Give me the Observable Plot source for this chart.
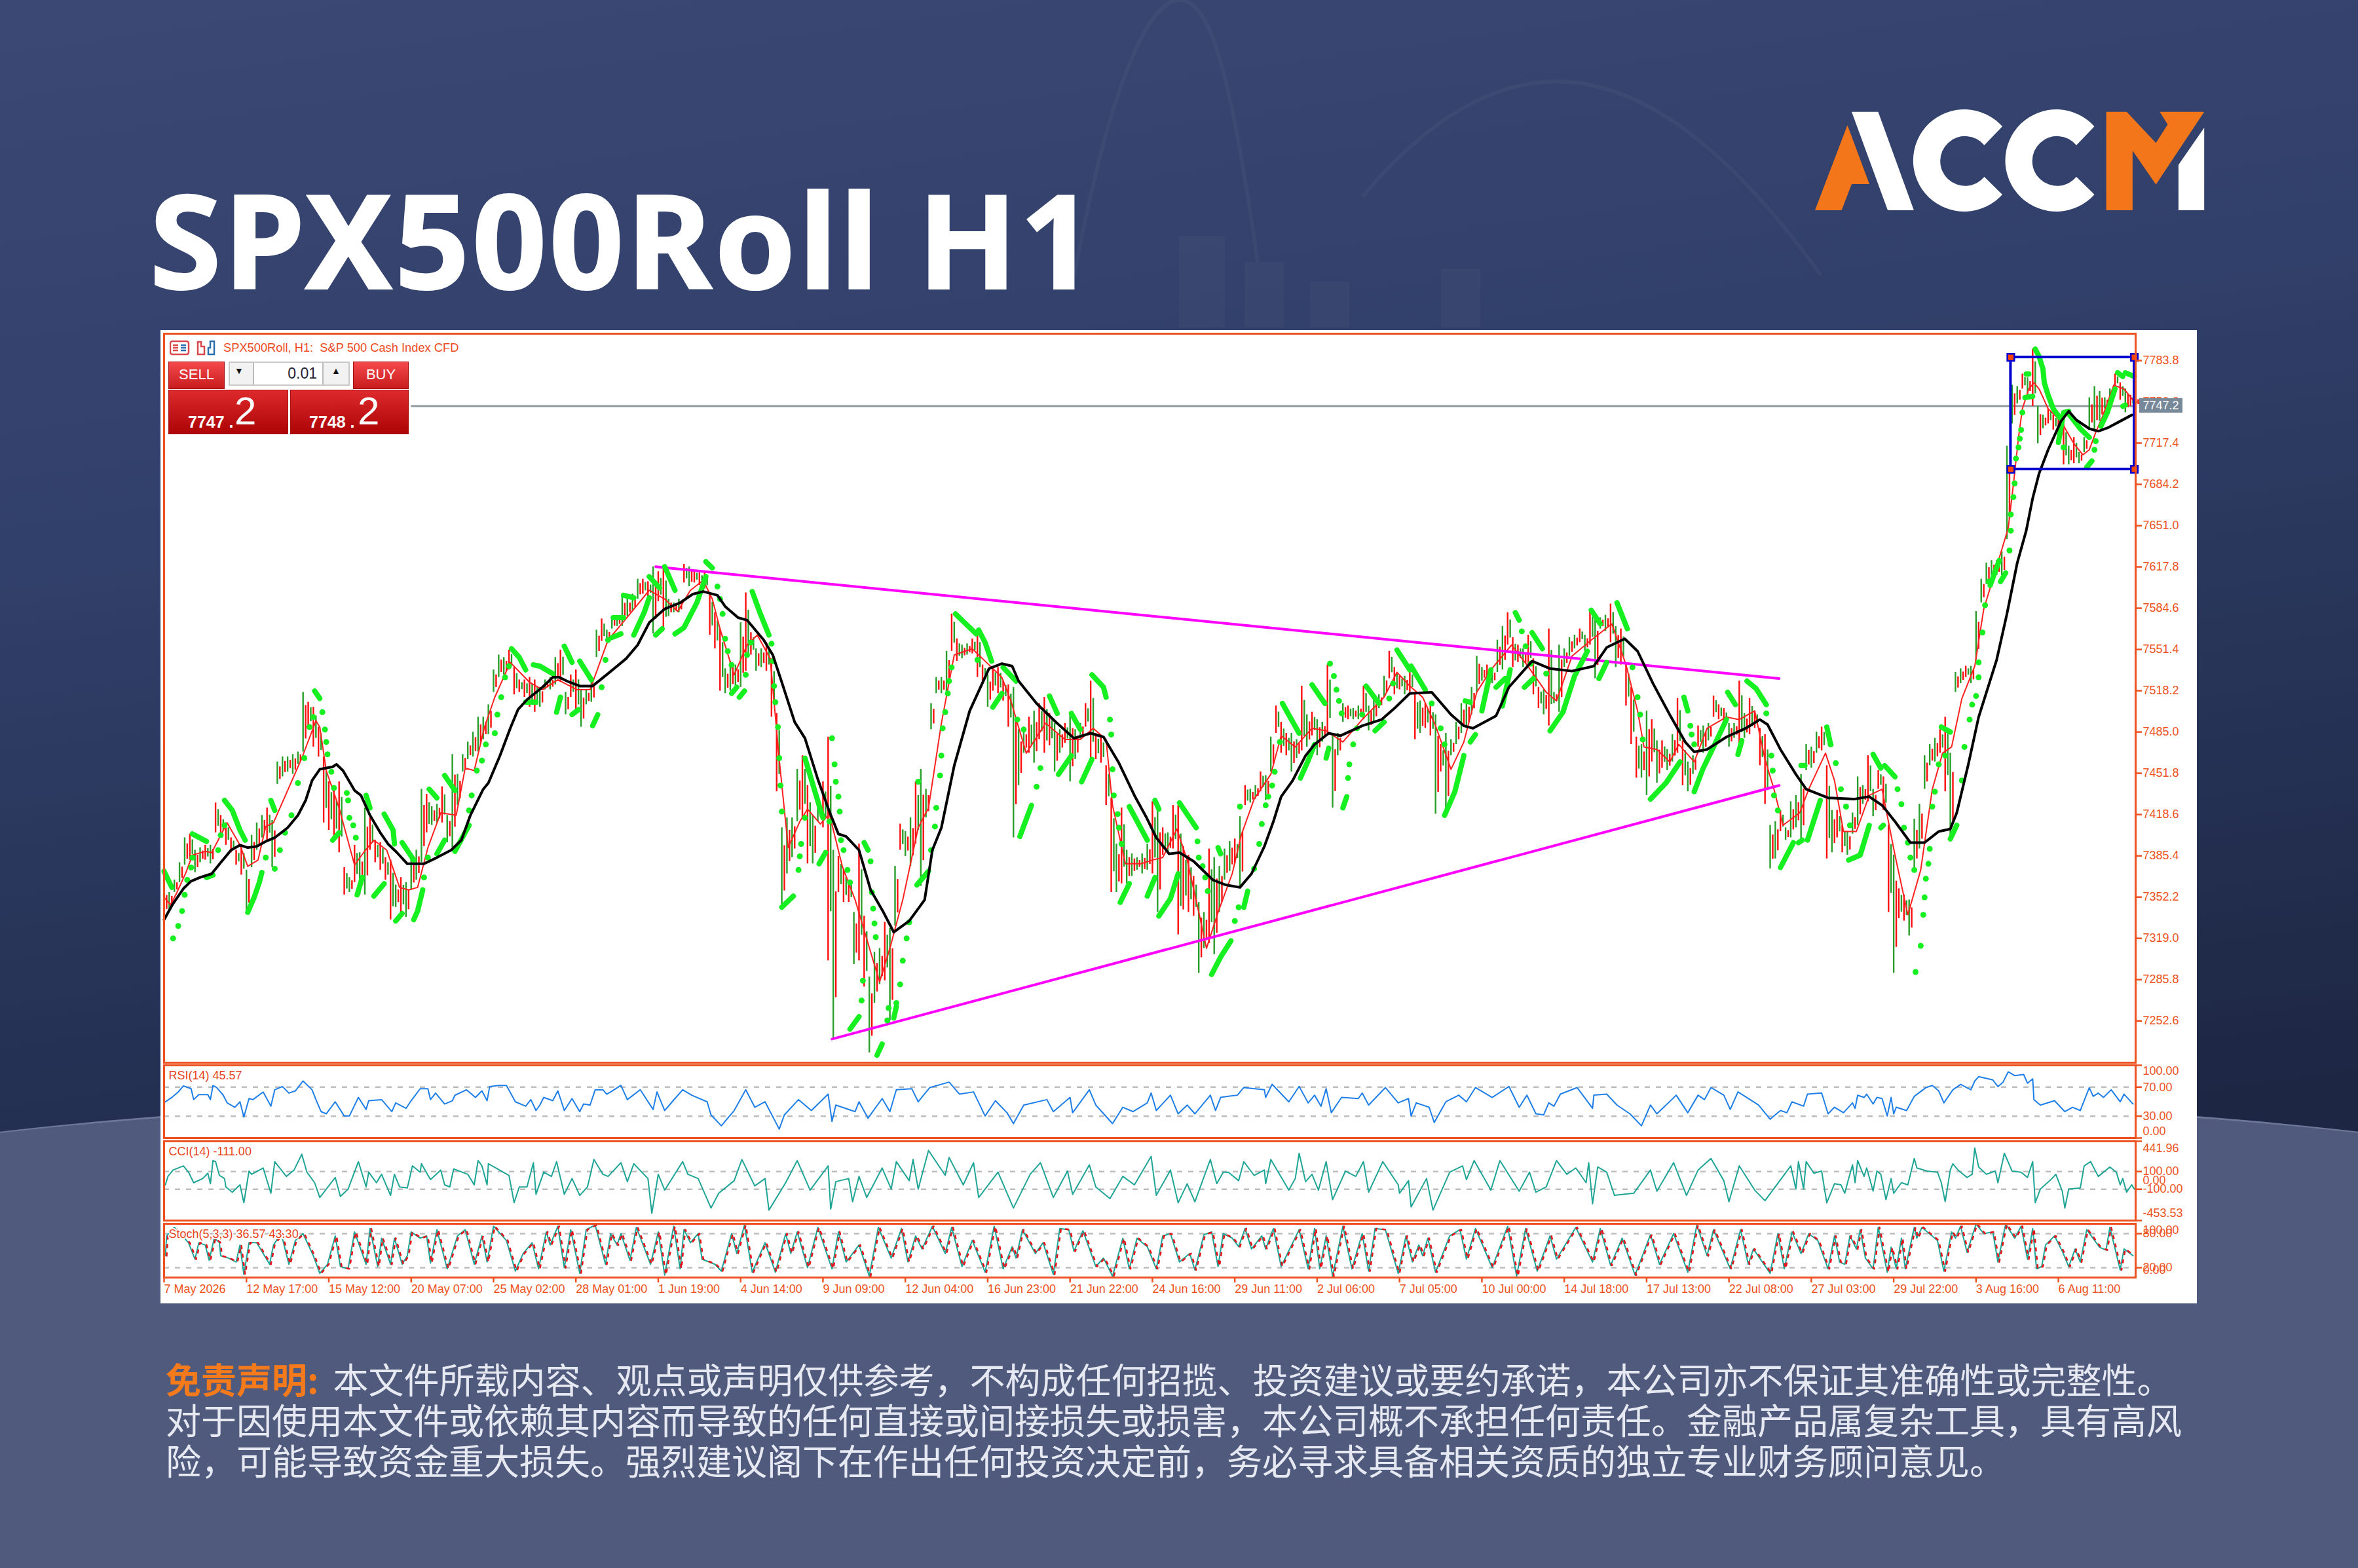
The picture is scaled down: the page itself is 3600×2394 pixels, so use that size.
<!DOCTYPE html>
<html><head><meta charset="utf-8">
<script src="https://cdn.jsdelivr.net/npm/d3@7"></script>
<script src="https://cdn.jsdelivr.net/npm/@observablehq/plot@0.6"></script>
<style>
html,body{margin:0;padding:0}
body{width:3600px;height:2394px;position:relative;overflow:hidden;background:linear-gradient(172deg,#3a4873 0%,#31406a 30%,#1d2744 74%);font-family:"Liberation Sans",sans-serif}
.abs{position:absolute}
#band{left:-300px;top:1655px;bottom:0;background:#4f5a7d;border-radius:50% 50% 0 0/150px 150px 0 0;border-top:4px solid #6d7898;width:4200px}
#title{left:228px;top:228px;font:700 200px/1.36 "Noto Sans",sans-serif;color:#fff;white-space:nowrap;letter-spacing:3.4px;-webkit-text-stroke:2px #fff}
#panel{left:245px;top:504px;width:3109px;height:1486px;background:#fff}
.plot{position:absolute;left:245px}
.sym{left:341px;top:520px;font-size:18.3px;color:#ee4b1e;white-space:nowrap}
.btn{background:linear-gradient(#f4484a,#c81d1f);color:#fff;text-align:center;font-size:22px;line-height:38px;box-sizing:border-box;border:1px solid #a80f10}
.px{background:linear-gradient(#dd2a2c,#ad0406);border:1px solid #a80f10;box-sizing:border-box}
.t{position:absolute;color:#fff;white-space:nowrap}
#disc{left:253px;top:2074px;font:400 54px/62px "Noto Sans CJK SC",sans-serif;color:#e6e9f1;white-space:nowrap}
#disc b{color:#f47a1c;font-weight:700;margin-right:22px}
</style></head><body>
<svg class="abs" style="left:0;top:0" width="3600" height="520"><g fill="none" stroke="#fff" stroke-opacity=".035" stroke-width="6"><path d="M1640 420C1700 100 1760 0 1800 0C1850 0 1880 120 1920 400"/><path d="M2080 300C2300 40 2520 60 2780 420"/></g><g fill="#fff" fill-opacity=".03"><rect x="1800" y="360" width="70" height="140"/><rect x="1900" y="400" width="60" height="100"/><rect x="2000" y="430" width="60" height="70"/><rect x="2200" y="410" width="60" height="90"/></g></svg>
<div class="abs" id="band"></div>
<svg class="abs" style="left:0;top:0" width="3600" height="400" role="img" aria-label="ACCM">
<g fill="#f4761a"><path d="M2771 321L2820.5 191L2854 281H2827L2811.6 321Z"/><path d="M3215.6 170.7H3246.9L3291.5 218.3L3309.4 190L3297.3 170.7H3365.2L3291.5 281.7L3255.8 230V321H3215.6Z"/></g>
<g fill="#fff"><path d="M2827 170.7H2867.4L2921.9 321H2882Z"/><path d="M3057 193A78 78 0 1 0 3057 297L3029.5 270A38 38 0 1 1 3029.5 221.7Z"/><path d="M3197.6 193A78 78 0 1 0 3197.6 297L3170 270A38 38 0 1 1 3170 221.7Z"/><path d="M3365.2 195V321H3325.9V251.7Z"/></g>
</svg>
<div class="abs" id="title">SPX500Roll H1</div>
<div class="abs" id="panel"></div>
<div class="plot" id="pMain" style="top:504px"></div>
<div class="plot" id="pRsi" style="top:1624px"></div>
<div class="plot" id="pCci" style="top:1740px"></div>
<div class="plot" id="pSto" style="top:1866px"></div>
<svg class="abs" style="left:259px;top:519px" width="72" height="24"><g fill="none" stroke-width="2.5"><rect x="1" y="2" width="28" height="20" rx="3" stroke="#d9484c"/><path d="M5 8h8M5 12h8M5 16h8" stroke="#d9484c"/><path d="M17 8h8M17 12h8M17 16h8" stroke="#2a6fb0"/><path d="M43 6v16h10V10h-5V3h-5z" stroke="#d9484c"/><path d="M59 22h9V2h-6v10h-3z" stroke="#2a6fb0"/></g></svg>
<div class="abs sym">SPX500Roll, H1:&nbsp; S&amp;P 500 Cash Index CFD</div>
<div class="abs btn" style="left:257px;top:552px;width:86px;height:42px">SELL</div>
<div class="abs btn" style="left:539px;top:552px;width:85px;height:42px">BUY</div>
<div class="abs" style="left:349px;top:552px;width:185px;height:37px;border:2px solid #c8c8c8;box-sizing:border-box;background:#f2f2f2"></div>
<div class="abs" style="left:386px;top:554px;width:108px;height:33px;background:#fff;border-left:2px solid #bbb;border-right:2px solid #bbb;text-align:right;font-size:23px;line-height:33px;color:#223;box-sizing:border-box;padding-right:8px">0.01</div>
<div class="abs" style="left:358px;top:558px;font-size:14px;color:#111">▼</div>
<div class="abs" style="left:506px;top:558px;font-size:14px;color:#111">▲</div>
<div class="abs px" style="left:257px;top:595px;width:183px;height:68px"></div>
<div class="abs px" style="left:443px;top:595px;width:181px;height:68px"></div>
<div class="t" style="left:287px;top:630px;font-size:25px;font-weight:700">7747 .</div>
<div class="t" style="left:358px;top:593px;font-size:60px">2</div>
<div class="t" style="left:472px;top:630px;font-size:25px;font-weight:700">7748 .</div>
<div class="t" style="left:546px;top:593px;font-size:60px">2</div>
<div class="abs" style="left:3266px;top:608px;width:66px;height:22px;background:#778899;color:#fff;font-size:18px;line-height:22px;text-align:center">7747.2</div>
<div class="abs" id="disc"><b>免责声明:</b>本文件所载内容、观点或声明仅供参考，不构成任何招揽、投资建议或要约承诺，本公司亦不保证其准确性或完整性。<br>对于因使用本文件或依赖其内容而导致的任何直接或间接损失或损害，本公司概不承担任何责任。金融产品属复杂工具，具有高风<br>险，可能导致资金重大损失。强烈建议阁下在作出任何投资决定前，务必寻求具备相关资质的独立专业财务顾问意见。</div>
<script>
const priceTicks=[7783.8,7750.6,7717.4,7684.2,7651.0,7617.8,7584.6,7551.4,7518.2,7485.0,7451.8,7418.6,7385.4,7352.2,7319.0,7285.8,7252.6];
const timeLabels=["7 May 2026","12 May 17:00","15 May 12:00","20 May 07:00","25 May 02:00","28 May 01:00","1 Jun 19:00","4 Jun 14:00","9 Jun 09:00","12 Jun 04:00","16 Jun 23:00","21 Jun 22:00","24 Jun 16:00","29 Jun 11:00","2 Jul 06:00","7 Jul 05:00","10 Jul 00:00","14 Jul 18:00","17 Jul 13:00","22 Jul 08:00","27 Jul 03:00","29 Jul 22:00","3 Aug 16:00","6 Aug 11:00"];
const bidPrice=7747.2;
// sampled every 4th hourly bar: [high, low]
const barHighLow=[[7358,7338],[7356,7342],[7366,7356],[7380,7364],[7400,7378],[7403,7382],[7390,7372],[7392,7380],[7394,7382],[7394,7379],[7428,7404],[7418,7402],[7412,7394],[7400,7388],[7390,7378],[7392,7370],[7374,7340],[7402,7376],[7412,7390],[7418,7400],[7424,7398],[7414,7376],[7461,7443],[7465,7449],[7465,7453],[7467,7451],[7469,7459],[7517,7469],[7509,7489],[7505,7473],[7489,7465],[7465,7412],[7445,7406],[7439,7398],[7445,7388],[7376,7354],[7368,7356],[7394,7364],[7388,7354],[7424,7354],[7416,7390],[7398,7380],[7396,7374],[7384,7366],[7382,7334],[7362,7344],[7368,7340],[7364,7336],[7384,7358],[7390,7366],[7439,7380],[7435,7404],[7425,7410],[7427,7412],[7441,7412],[7418,7396],[7467,7392],[7451,7426],[7467,7453],[7477,7463],[7485,7465],[7497,7469],[7497,7479],[7507,7483],[7535,7517],[7547,7529],[7545,7531],[7551,7535],[7537,7515],[7527,7517],[7527,7513],[7529,7505],[7527,7501],[7521,7505],[7527,7519],[7529,7519],[7545,7523],[7551,7525],[7517,7499],[7531,7513],[7535,7499],[7519,7489],[7519,7507],[7525,7509],[7567,7545],[7576,7558],[7567,7559],[7578,7568],[7578,7570],[7594,7570],[7592,7578],[7596,7582],[7608,7592],[7608,7596],[7606,7594],[7618,7564],[7614,7590],
[7618,7566],[7592,7578],[7589,7581],[7592,7581],[7620,7605],[7618,7602],[7615,7605],[7613,7603],[7613,7600],[7597,7563],[7581,7552],[7568,7518],[7536,7516],[7542,7518],[7539,7521],[7573,7521],[7597,7534],[7565,7547],[7552,7534],[7552,7537],[7557,7534],[7544,7497],[7500,7437],[7408,7343],[7416,7371],[7416,7384],[7455,7413],[7466,7416],[7442,7379],[7418,7379],[7429,7413],[7445,7408],[7481,7301],[7390,7238],[7385,7356],[7374,7348],[7366,7348],[7340,7298],[7395,7301],[7337,7280],[7288,7227],[7308,7267],[7311,7282],[7332,7285],[7327,7253],[7377,7329],[7411,7390],[7405,7385],[7416,7377],[7445,7395],[7455,7361],[7439,7416],[7508,7487],[7529,7516],[7529,7516],[7550,7516],[7580,7550],[7560,7542],[7555,7544],[7556,7547],[7560,7548],[7565,7529],[7539,7526],[7531,7505],[7537,7518],[7537,7516],[7526,7510],[7523,7489],[7521,7400],[7487,7442],[7487,7468],[7497,7468],[7502,7460],[7508,7479],[7513,7468],[7500,7474],[7492,7453],[7487,7468],[7492,7476],[7500,7445],[7487,7463],[7492,7479],[7508,7489],[7526,7463],[7484,7463],[7481,7460],[7458,7426],[7432,7356],[7395,7356],[7424,7363],[7390,7363],[7387,7369],[7384,7374],[7387,7371],[7395,7374],[7429,7371],
[7422,7340],[7408,7386],[7404,7388],[7426,7391],[7426,7322],[7393,7342],[7386,7340],[7369,7337],[7348,7291],[7340,7311],[7391,7315],[7384,7306],[7377,7340],[7391,7366],[7397,7373],[7399,7379],[7417,7360],[7442,7426],[7439,7428],[7442,7431],[7453,7437],[7450,7430],[7481,7453],[7506,7484],[7493,7468],[7484,7466],[7484,7453],[7479,7464],[7522,7470],[7499,7473],[7501,7482],[7495,7466],[7493,7477],[7539,7484],[7484,7424],[7484,7466],[7508,7493],[7506,7495],[7504,7495],[7506,7495],[7522,7495],[7506,7486],[7513,7493],[7515,7504],[7530,7513],[7550,7528],[7537,7515],[7530,7519],[7530,7515],[7535,7517],[7517,7479],[7510,7484],[7508,7488],[7506,7482],[7499,7419],[7475,7453],[7484,7419],[7479,7466],[7493,7475],[7508,7484],[7510,7488],[7521,7499],[7546,7517],[7537,7526],[7539,7526],[7535,7524],[7559,7533],[7570,7535],[7581,7555],[7561,7537],[7555,7541],[7552,7537],[7563,7539],[7544,7515],[7521,7504],[7519,7499],[7568,7490],[7517,7508],[7555,7501],[7552,7537],[7561,7546],[7563,7552],[7568,7557],[7563,7550],[7584,7555],[7577,7528],[7577,7568],[7579,7566],[7588,7557],[7570,7537],[7568,7539],[7539,7506],[7521,7475],[7481,7448],[7475,7448],
[7502,7434],[7495,7461],[7478,7444],[7478,7456],[7471,7454],[7483,7461],[7512,7468],[7478,7442],[7461,7437],[7466,7451],[7490,7473],[7490,7468],[7492,7478],[7514,7497],[7507,7495],[7504,7488],[7492,7473],[7492,7480],[7526,7473],[7500,7480],[7512,7483],[7502,7488],[7488,7458],[7483,7427],[7410,7375],[7413,7383],[7422,7405],[7408,7398],[7429,7400],[7434,7408],[7451,7398],[7475,7454],[7473,7456],[7485,7468],[7489,7470],[7458,7383],[7422,7388],[7422,7400],[7410,7388],[7405,7386],[7420,7403],[7449,7410],[7442,7427],[7466,7429],[7439,7417],[7454,7439],[7449,7422],[7410,7340],[7386,7291],[7359,7335],[7354,7333],[7350,7321],[7415,7374],[7427,7391],[7466,7439],[7475,7458],[7480,7461],[7487,7468],[7497,7437],[7468,7398],[7533,7517],[7536,7524],[7538,7529],[7538,7524],[7582,7543],[7608,7589],[7621,7604],[7623,7606],[7623,7611],[7630,7611],[7715,7640],[7764,7733],[7763,7749],[7773,7761],[7770,7756],[7793,7747],[7747,7717],[7740,7729],[7745,7733],[7740,7728],[7738,7729],[7733,7700],[7715,7700],[7722,7701],[7710,7701],[7722,7710],[7754,7728],[7763,7728],[7759,7735],[7754,7745],[7761,7750],[7773,7763],[7766,7752],[7761,7742],[7756,7747],[7754,7747]];
const maSlow=[[0,7334],[7,7347],[15,7359],[21,7365],[28,7368],[37,7371],[44,7380],[52,7390],[59,7394],[65,7392],[72,7393],[79,7397],[86,7400],[96,7408],[104,7418],[110,7430],[115,7446],[121,7455],[131,7457],[134,7459],[139,7454],[148,7438],[153,7434],[160,7418],[168,7404],[174,7395],[181,7388],[189,7379],[202,7379],[212,7384],[223,7390],[231,7398],[238,7418],[248,7439],[252,7444],[261,7466],[269,7488],[275,7503],[282,7511],[294,7521],[302,7529],[307,7529],[313,7526],[323,7522],[333,7522],[345,7532],[359,7544],[368,7555],[377,7573],[389,7584],[401,7589],[411,7596],[419,7598],[430,7595],[436,7586],[446,7577],[453,7575],[466,7559],[473,7547],[480,7525],[490,7493],[498,7480],[508,7447],[517,7421],[524,7403],[530,7401],[540,7390],[549,7358],[559,7340],[567,7324],[579,7333],[591,7350],[597,7390],[604,7408],[614,7458],[626,7502],[641,7536],[651,7540],[659,7538],[664,7526],[678,7508],[693,7493],[707,7480],[720,7484],[730,7481],[742,7460],[754,7434],[763,7417],[771,7400],[781,7387],[789,7388],[800,7381],[815,7366],[825,7362],[836,7360],[845,7371],[855,7393],[862,7413],[868,7433],[877,7446],[887,7466],[894,7475],[905,7484],[914,7482],[931,7490],[946,7495],[956,7504],[968,7516],[985,7517],[1000,7499],[1010,7490],[1017,7488],[1035,7498],[1045,7521],[1063,7542],[1077,7536],[1094,7534],[1111,7538],[1121,7553],[1135,7560],[1145,7550],[1157,7524],[1171,7497],[1182,7477],[1189,7469],[1199,7471],[1214,7481],[1229,7488],[1240,7495],[1246,7491],[1256,7471],[1268,7451],[1276,7439],[1293,7432],[1313,7431],[1325,7433],[1335,7426],[1345,7413],[1357,7396],[1368,7396],[1379,7405],[1388,7407],[1393,7420],[1402,7459],[1410,7497],[1424,7543],[1432,7580],[1440,7621],[1447,7647],[1452,7673],[1457,7693],[1464,7712],[1474,7735],[1480,7743],[1486,7736],[1496,7729],[1503,7727],[1511,7730],[1520,7735],[1529,7740]];
const maFast=[[0,7352],[5,7346],[10,7356],[17,7372],[22,7386],[32,7389],[37,7388],[49,7412],[59,7394],[65,7377],[73,7382],[79,7409],[85,7412],[96,7438],[107,7464],[118,7494],[121,7489],[126,7454],[136,7424],[148,7378],[155,7388],[163,7398],[173,7390],[183,7360],[190,7358],[197,7360],[205,7392],[215,7420],[227,7418],[234,7456],[241,7454],[249,7489],[257,7513],[269,7541],[284,7525],[294,7519],[306,7527],[321,7519],[331,7519],[345,7559],[358,7575],[377,7599],[389,7592],[399,7582],[409,7599],[419,7607],[426,7592],[432,7568],[443,7531],[453,7555],[461,7563],[471,7544],[478,7463],[485,7392],[494,7413],[500,7423],[510,7411],[517,7419],[527,7377],[537,7350],[549,7308],[556,7284],[564,7311],[574,7350],[586,7408],[594,7424],[604,7492],[614,7547],[628,7552],[641,7539],[651,7529],[658,7510],[670,7468],[685,7492],[700,7479],[712,7479],[722,7488],[732,7479],[737,7426],[747,7379],[759,7379],[768,7382],[776,7384],[787,7407],[795,7382],[804,7340],[810,7311],[819,7340],[830,7371],[837,7402],[847,7431],[860,7451],[868,7482],[879,7473],[892,7488],[903,7486],[916,7477],[931,7495],[948,7513],[958,7533],[968,7522],[978,7513],[988,7490],[1000,7455],[1010,7477],[1020,7517],[1031,7535],[1047,7555],[1059,7539],[1074,7517],[1082,7510],[1094,7546],[1109,7559],[1125,7572],[1136,7539],[1145,7502],[1150,7473],[1160,7471],[1170,7461],[1177,7475],[1189,7461],[1199,7488],[1214,7497],[1224,7495],[1236,7502],[1244,7463],[1251,7439],[1258,7410],[1271,7420],[1278,7439],[1291,7468],[1298,7446],[1305,7405],[1315,7405],[1325,7434],[1335,7439],[1345,7386],[1355,7338],[1365,7374],[1374,7439],[1382,7468],[1389,7473],[1397,7512],[1407,7538],[1414,7584],[1424,7618],[1433,7649],[1437,7684],[1441,7722],[1444,7745],[1449,7761],[1453,7766],[1457,7761],[1464,7745],[1474,7735],[1479,7726],[1484,7717],[1491,7708],[1496,7712],[1501,7726],[1506,7738],[1515,7764],[1523,7761],[1530,7752]];
const sarTrails=[[[0,7373],[6,7360]],[[22,7403],[33,7397]],[[33,7368],[38,7370]],[[47,7430],[53,7422],[59,7406],[63,7398]],[[65,7340],[70,7352],[74,7364],[76,7372]],[[83,7430],[86,7422]],[[117,7518],[121,7512]],[[131,7398],[136,7404]],[[150,7354],[154,7368]],[[157,7434],[160,7424]],[[163,7353],[171,7363]],[[171,7419],[178,7406],[179,7395]],[[180,7333],[185,7339]],[[185,7396],[194,7382]],[[194,7334],[197,7341],[201,7358]],[[206,7439],[212,7432]],[[212,7387],[218,7398]],[[218,7450],[226,7438]],[[226,7389],[237,7410]],[[270,7552],[276,7545],[281,7535]],[[287,7539],[292,7538],[302,7532]],[[281,7509],[289,7509]],[[305,7501],[308,7513]],[[311,7554],[317,7541]],[[317,7499],[322,7503]],[[323,7542],[332,7527]],[[333,7490],[337,7499]],[[348,7561],[355,7564]],[[349,7577],[357,7577]],[[357,7595],[365,7593]],[[365,7563],[373,7581],[377,7593]],[[377,7610],[385,7601]],[[382,7563],[387,7568]],[[389,7618],[397,7599]],[[397,7564],[404,7569],[414,7589],[421,7610]],[[421,7622],[426,7617]],[[441,7516],[445,7521]],[[447,7513],[451,7518]],[[457,7598],[463,7581],[470,7563]],[[480,7344],[489,7353]],[[498,7464],[509,7426],[512,7416]],[[509,7379],[514,7388]],[[533,7246],[540,7256]],[[544,7396],[547,7390]],[[554,7225],[558,7234]],[[567,7255],[569,7264]],[[585,7362],[594,7373]],[[615,7580],[631,7564]],[[633,7567],[638,7557],[643,7542]],[[644,7505],[651,7516]],[[652,7537],[662,7526]],[[665,7401],[674,7426]],[[688,7514],[694,7500]],[[695,7451],[705,7466]],[[705,7500],[712,7487]],[[713,7445],[721,7463]],[[721,7531],[730,7521],[732,7513]],[[743,7348],[750,7363]],[[750,7425],[764,7398]],[[764,7353],[770,7368]],[[770,7430],[773,7423]],[[773,7337],[782,7351],[788,7371]],[[789,7428],[802,7408]],[[814,7290],[821,7304],[829,7317]],[[819,7392],[821,7387]],[[839,7344],[842,7357]],[[869,7508],[882,7484]],[[883,7448],[889,7462],[894,7475]],[[892,7523],[902,7508]],[[903,7464],[905,7472]],[[916,7424],[919,7433]],[[934,7522],[944,7508]],[[941,7486],[948,7493]],[[958,7551],[968,7535]],[[969,7538],[980,7519]],[[995,7418],[1003,7437],[1010,7466]],[[1011,7510],[1015,7509]],[[1015,7477],[1019,7483]],[[1024,7502],[1031,7535]],[[1035,7521],[1042,7528]],[[1040,7506],[1046,7535]],[[1050,7581],[1053,7575]],[[1057,7521],[1064,7528]],[[1063,7565],[1071,7552]],[[1077,7486],[1087,7501],[1096,7530],[1106,7550]],[[1109,7583],[1116,7572]],[[1115,7528],[1121,7541]],[[1129,7589],[1137,7568]],[[1155,7431],[1167,7444],[1178,7461]],[[1181,7513],[1184,7502]],[[1189,7437],[1196,7456],[1204,7473],[1214,7495]],[[1215,7517],[1221,7507]],[[1223,7467],[1226,7478]],[[1230,7526],[1237,7520],[1245,7507]],[[1256,7376],[1266,7396]],[[1270,7396],[1273,7398]],[[1277,7398],[1287,7430]],[[1272,7458],[1275,7458]],[[1292,7489],[1295,7475]],[[1309,7382],[1318,7386],[1325,7410]],[[1328,7467],[1334,7456]],[[1337,7458],[1345,7449]],[[1334,7408],[1336,7410]],[[1381,7489],[1388,7485]],[[1388,7399],[1393,7410]],[[1419,7603],[1426,7623]],[[1427,7606],[1431,7613]],[[1446,7754],[1452,7755]],[[1447,7773],[1449,7773]],[[1454,7793],[1457,7787],[1460,7777],[1461,7766],[1464,7756],[1468,7745],[1473,7738]],[[1472,7718],[1476,7742],[1480,7743]],[[1480,7741],[1489,7729],[1496,7722]],[[1494,7698],[1498,7703]],[[1505,7731],[1510,7742],[1516,7761]],[[1518,7774],[1522,7771]],[[1524,7774],[1531,7771]],[[1522,7747],[1524,7748]]];
const sarDots=[[7,7319],[11,7329],[14,7341],[16,7354],[18,7366],[21,7376],[22,7384],[42,7390],[44,7402],[47,7410],[79,7384],[86,7375],[90,7390],[94,7404],[99,7418],[104,7444],[109,7464],[113,7489],[116,7497],[123,7501],[125,7487],[126,7477],[127,7467],[130,7453],[132,7440],[142,7436],[143,7430],[144,7416],[147,7410],[149,7400],[202,7368],[205,7384],[237,7422],[239,7434],[243,7454],[247,7462],[250,7475],[257,7484],[259,7499],[262,7513],[265,7529],[268,7538],[340,7521],[343,7543],[345,7559],[430,7602],[432,7592],[434,7580],[436,7560],[438,7550],[441,7539],[452,7531],[453,7547],[456,7557],[472,7556],[473,7542],[474,7522],[475,7509],[477,7489],[478,7464],[479,7442],[480,7421],[493,7374],[494,7385],[495,7395],[498,7416],[517,7413],[519,7480],[521,7459],[522,7445],[524,7433],[525,7421],[526,7398],[528,7390],[531,7374],[533,7364],[542,7269],[543,7285],[549,7381],[550,7356],[551,7343],[552,7331],[553,7320],[562,7253],[563,7263],[569,7267],[572,7282],[574,7301],[577,7319],[579,7332],[586,7445],[596,7390],[599,7409],[600,7424],[603,7450],[604,7466],[605,7488],[607,7501],[609,7516],[610,7526],[612,7537],[632,7543],[663,7495],[668,7487],[678,7441],[681,7456],[735,7495],[736,7483],[737,7455],[738,7434],[741,7419],[742,7408],[744,7395],[803,7397],[804,7384],[807,7377],[809,7368],[811,7357],[832,7333],[835,7344],[836,7425],[847,7375],[851,7395],[853,7411],[856,7426],[858,7433],[861,7442],[863,7453],[867,7477],[906,7540],[909,7530],[911,7519],[913,7510],[915,7500],[920,7448],[921,7459],[924,7475],[927,7488],[931,7499],[952,7512],[955,7524],[985,7508],[992,7488],[995,7475],[1055,7566],[1058,7554],[1062,7540],[1074,7532],[1141,7537],[1145,7513],[1147,7499],[1149,7479],[1186,7490],[1187,7483],[1189,7475],[1245,7500],[1249,7466],[1250,7454],[1251,7434],[1254,7422],[1295,7475],[1299,7460],[1303,7439],[1307,7425],[1310,7410],[1347,7439],[1350,7427],[1352,7408],[1355,7396],[1357,7384],[1360,7374],[1361,7292],[1365,7313],[1367,7338],[1368,7352],[1369,7367],[1371,7379],[1372,7391],[1374,7425],[1376,7437],[1379,7459],[1384,7466],[1397,7446],[1399,7473],[1403,7495],[1405,7507],[1408,7514],[1410,7529],[1410,7541],[1413,7565],[1415,7587],[1418,7606],[1434,7631],[1435,7647],[1435,7660],[1437,7674],[1438,7685],[1439,7705],[1441,7714],[1442,7721],[1443,7728],[1444,7742],[1476,7714],[1500,7712],[1501,7719]];
const upperTrend=[[382,7618],[1255,7528]];
const lowerTrend=[[519,7238],[1255,7442]];
const boxCorners=[[1435,7786.4],[1531,7786.4],[1435,7696.3],[1531,7696.3]];
const rsiSeries=[[1,49.8],[6,55.8],[11,63.3],[15,71.7],[21,67.8],[23,52.8],[27,59.7],[34,59.7],[36,52.8],[38,72.3],[41,69.3],[46,58.8],[49,48.3],[55,42.3],[59,49.8],[62,28.8],[66,54.3],[69,52.8],[77,63.3],[83,43.8],[86,66.3],[92,70.8],[97,61.8],[102,64.8],[108,78.4],[115,66.3],[118,52.8],[122,36.3],[126,33.3],[133,49.8],[140,30.3],[144,30.3],[151,55.8],[157,39.3],[159,51.3],[169,52.8],[177,36.3],[180,48.3],[188,40.8],[192,51.3],[199,67.8],[205,67.8],[207,52.8],[211,61.8],[218,46.8],[224,51.3],[226,58.8],[235,66.3],[242,55.8],[247,64.8],[251,51.3],[253,70.8],[260,72.3],[266,72.3],[273,49.8],[281,43.8],[285,52.8],[289,37.8],[292,45.3],[295,55.8],[302,51.3],[306,64.8],[311,37.8],[317,54.3],[323,36.3],[326,46.8],[331,45.3],[335,66.3],[341,66.3],[344,60.3],[347,63.4],[355,72.4],[360,52.8],[370,66.4],[380,39.3],[383,63.4],[389,37.8],[397,54.3],[403,66.4],[410,58.9],[422,49.8],[425,31.8],[433,16.8],[443,37.8],[452,66.4],[459,42.3],[467,49.8],[478,12.3],[482,31.8],[493,52.8],[503,37.8],[516,60.4],[519,22.8],[522,45.3],[537,36.3],[540,49.8],[547,27.3],[558,54.3],[564,36.3],[569,66.4],[581,67.9],[586,49.8],[595,69.4],[610,76.9],[618,60.4],[629,63.4],[638,30.3],[646,51.3],[655,34.8],[660,19.8],[668,45.3],[686,52.8],[691,36.3],[704,55.8],[706,34.8],[719,66.4],[724,45.3],[737,19.8],[745,42.3],[753,36.3],[764,48.3],[767,61.9],[771,37.8],[782,58.9],[788,33.3],[795,45.3],[801,33.3],[813,58.9],[817,37.8],[821,55.8],[827,57.4],[834,58.9],[839,69.4],[855,66.4],[856,55.8],[861,73.9],[874,49.8],[882,70.9],[889,48.3],[894,58.9],[899,43.8],[903,67.9],[907,34.8],[915,55.8],[928,54.3],[931,61.9],[936,45.3],[949,69.4],[959,48.3],[967,54.3],[969,30.3],[973,48.3],[983,42.3],[987,21.3],[996,49.8],[1006,58.9],[1012,49.8],[1019,69.4],[1032,55.8],[1045,70.9],[1053,42.3],[1059,58.9],[1066,33.3],[1072,31.8],[1076,48.3],[1080,43.8],[1085,60.4],[1098,69.4],[1110,40.8],[1111,58.9],[1121,60.4],[1129,45.3],[1139,33.3],[1148,16.8],[1155,45.3],[1160,33.3],[1175,58.9],[1184,34.8],[1192,58.9],[1197,52.8],[1202,69.4],[1212,58.9],[1217,39.3],[1223,63.4],[1239,45.3],[1248,25.8],[1256,37.8],[1261,34.8],[1265,49.8],[1274,43.8],[1277,60.4],[1288,61.9],[1293,33.3],[1298,42.3],[1305,34.8],[1312,48.3],[1314,40.8],[1316,58.8],[1321,55.8],[1323,60.3],[1328,46.8],[1331,55.8],[1335,54.3],[1339,30.3],[1342,55.8],[1344,33.3],[1346,42.3],[1354,37.8],[1360,57.3],[1369,69.3],[1374,72.3],[1379,64.8],[1383,48.3],[1390,66.3],[1396,73.8],[1404,66.3],[1407,78.4],[1410,84.4],[1421,79.9],[1425,70.8],[1429,76.9],[1433,91],[1438,85.9],[1445,87.4],[1448,75.4],[1452,81.4],[1453,52.8],[1458,45.3],[1469,51.3],[1477,36.3],[1483,42.3],[1489,37.8],[1496,69.3],[1499,57.3],[1503,61.8],[1507,55.8],[1513,66.3],[1520,49.8],[1523,60.3],[1530,46.8]];
const cciSeries=[[1,-50],[3,45],[7,117],[15,164],[19,93],[23,-26],[30,21],[34,81],[36,-38],[38,224],[40,212],[43,57],[47,21],[48,-74],[53,-133],[59,-50],[62,-252],[66,105],[68,69],[77,140],[83,-145],[86,212],[95,45],[101,117],[107,295],[111,93],[117,-26],[121,-193],[133,33],[137,-181],[143,-98],[151,212],[157,-74],[159,93],[165,-26],[169,69],[176,-169],[179,69],[183,-74],[189,-86],[193,164],[199,93],[200,188],[207,9],[215,117],[218,-50],[222,-74],[225,129],[236,69],[241,-50],[244,224],[247,164],[251,-50],[252,188],[268,57],[272,-252],[276,-74],[282,-74],[287,200],[289,-157],[295,93],[301,45],[305,212],[311,-157],[317,21],[323,-169],[329,-74],[334,236],[341,69],[345,45],[355,200],[360,-14],[365,188],[376,21],[379,-372],[384,69],[389,-110],[403,212],[407,69],[415,21],[425,-312],[431,-145],[443,-3],[449,236],[459,-62],[467,21],[470,-336],[483,-26],[492,224],[502,-110],[516,164],[518,-324],[522,-14],[532,21],[535,-241],[540,45],[546,-193],[558,140],[565,-98],[569,212],[579,-3],[582,236],[586,-98],[594,338],[607,57],[610,259],[621,-50],[629,200],[633,-193],[648,93],[660,-312],[673,69],[681,200],[691,-193],[702,105],[706,-157],[719,176],[724,-74],[735,-205],[745,45],[754,-50],[767,271],[771,-169],[782,117],[788,-253],[795,-38],[801,-241],[813,236],[818,-38],[823,93],[827,93],[835,-3],[839,212],[847,57],[855,117],[856,-38],[860,236],[874,-110],[879,21],[882,307],[887,-14],[892,69],[897,-110],[903,212],[908,-217],[918,105],[926,45],[932,212],[936,-133],[947,212],[959,-50],[960,-145],[967,-3],[969,-300],[981,21],[986,-336],[999,93],[1009,164],[1012,9],[1018,224],[1031,-110],[1038,224],[1053,-122],[1061,93],[1066,-133],[1074,-74],[1082,224],[1090,69],[1097,140],[1105,-26],[1107,200],[1110,-264],[1114,152],[1121,93],[1127,-169],[1142,-145],[1155,117],[1160,-122],[1173,200],[1183,-169],[1192,117],[1202,248],[1212,-3],[1216,-241],[1224,164],[1236,-110],[1244,-229],[1264,164],[1268,-98],[1270,212],[1274,-98],[1276,212],[1282,81],[1288,105],[1292,-253],[1298,-38],[1303,-50],[1306,-145],[1309,21],[1312,176],[1314,-26],[1316,224],[1321,45],[1323,140],[1328,-121],[1331,105],[1334,69],[1338,-217],[1342,21],[1344,-145],[1350,-26],[1355,-50],[1360,248],[1362,140],[1370,105],[1378,93],[1381,-26],[1384,-240],[1388,117],[1390,188],[1394,117],[1401,33],[1405,69],[1407,367],[1410,152],[1416,69],[1423,105],[1425,-26],[1430,307],[1436,105],[1443,93],[1448,33],[1452,212],[1454,-252],[1458,-98],[1467,21],[1470,69],[1475,-121],[1477,-312],[1480,-98],[1489,-86],[1492,164],[1497,212],[1503,45],[1512,152],[1517,93],[1520,-50],[1522,21],[1525,-133],[1529,-50],[1531,-98]];
const stochK=[[1,41],[2,76],[8,91],[19,64],[24,35],[27,64],[32,60],[35,33],[39,72],[43,64],[44,41],[50,37],[56,30],[59,60],[62,8],[66,64],[72,64],[82,26],[85,60],[91,80],[97,26],[102,68],[108,80],[116,41],[121,10],[127,26],[133,76],[137,22],[143,18],[148,83],[157,26],[160,89],[166,22],[169,72],[176,26],[179,72],[185,26],[189,41],[192,83],[199,72],[204,76],[207,28],[212,87],[220,18],[228,76],[234,87],[241,26],[247,76],[251,30],[256,93],[266,68],[273,14],[279,45],[286,64],[291,18],[297,83],[300,60],[306,93],[311,20],[316,87],[323,10],[328,87],[335,95],[343,26],[347,80],[352,60],[355,80],[362,33],[367,91],[378,26],[384,83],[389,7],[396,93],[401,18],[404,87],[409,64],[415,80],[418,35],[428,26],[433,14],[441,80],[445,45],[451,95],[457,12],[467,64],[475,12],[483,80],[487,45],[492,83],[500,20],[508,91],[519,18],[524,83],[530,30],[540,60],[548,5],[555,91],[565,37],[573,89],[578,30],[584,76],[589,53],[597,93],[607,45],[612,91],[620,22],[628,68],[638,12],[645,93],[652,18],[659,57],[662,37],[667,87],[677,45],[683,64],[691,8],[696,89],[703,87],[707,49],[714,85],[724,22],[730,37],[737,5],[745,72],[750,18],[756,72],[764,57],[771,18],[776,76],[782,80],[789,30],[797,45],[801,16],[808,78],[814,83],[819,22],[823,80],[830,72],[835,57],[840,89],[845,53],[853,76],[856,53],[862,89],[868,22],[882,87],[889,18],[894,89],[898,18],[903,76],[908,5],[916,93],[923,18],[931,80],[936,14],[941,89],[949,87],[959,10],[965,76],[970,30],[975,60],[978,41],[982,72],[988,12],[999,76],[1007,87],[1012,35],[1019,89],[1032,20],[1044,93],[1051,5],[1058,89],[1067,14],[1077,76],[1082,35],[1097,91],[1110,30],[1116,89],[1124,24],[1133,72],[1143,7],[1155,78],[1162,26],[1173,80],[1184,12],[1191,95],[1199,41],[1204,87],[1217,18],[1225,87],[1231,26],[1235,53],[1248,10],[1254,80],[1259,18],[1265,83],[1272,45],[1278,80],[1285,68],[1293,18],[1298,76],[1302,30],[1306,26],[1310,76],[1315,53],[1318,87],[1322,37],[1328,18],[1332,91],[1339,12],[1342,56],[1346,18],[1350,72],[1353,18],[1360,91],[1362,72],[1366,91],[1378,68],[1383,14],[1389,83],[1392,72],[1396,93],[1401,47],[1408,97],[1414,80],[1421,83],[1425,30],[1431,97],[1438,72],[1443,93],[1448,35],[1452,89],[1455,18],[1459,22],[1462,60],[1469,76],[1475,49],[1480,22],[1485,53],[1489,30],[1494,87],[1504,56],[1509,51],[1512,91],[1520,16],[1523,53],[1530,41]];
const rsiLevels=[70,30], cciLevels=[100,-100], stochLevels=[80,20];

const W=3109, ML=5, MR=94, XMAX=1532;
const orange="#ee5220", red="#ff0d0d", green="#2a9e2a", lime="#16ef20", teal="#1fa596", blue="#1f7fe8", gray="#bdbdbd";
const xOpt={domain:[0,XMAX],axis:null};
const font="Liberation Sans";
const pts=a=>a.map(([n,v])=>({n,v}));
const bars=barHighLow.map(([h,l],i)=>({n:i*4,h,l}));
bars.forEach((b,i)=>{const nx=bars[Math.min(i+1,bars.length-1)];b.up=(nx.h+nx.l)>=(b.h+b.l)});
const trailRows=sarTrails.flatMap((s,k)=>s.map(([n,v])=>({n,v,k})));

document.getElementById("pMain").append(Plot.plot({
 width:W,height:1119,marginLeft:ML,marginRight:MR,marginTop:5,marginBottom:1,
 style:{background:"transparent",overflow:"visible",fontFamily:font},
 x:xOpt,y:{domain:[7219,7805.4],axis:null},
 marks:[
  Plot.ruleY([bidPrice],{x1:192,x2:XMAX,stroke:"#8f9a9f",strokeWidth:3}),
  Plot.ruleX(bars,{x:"n",y1:"l",y2:"h",stroke:d=>d.up?green:red,strokeWidth:2.4}),
  Plot.ruleX(bars,{x:d=>d.n+2,y1:d=>d.l+(d.h-d.l)*.22,y2:d=>d.h-(d.h-d.l)*.22,stroke:d=>d.up?red:green,strokeWidth:2.4}),
  Plot.line(pts(maFast),{x:"n",y:"v",stroke:"#ff2020",strokeWidth:2}),
  Plot.line(pts(upperTrend),{x:"n",y:"v",stroke:"#ff00ff",strokeWidth:4}),
  Plot.line(pts(lowerTrend),{x:"n",y:"v",stroke:"#ff00ff",strokeWidth:4}),
  Plot.line(trailRows,{x:"n",y:"v",z:"k",stroke:lime,strokeWidth:8,strokeLinecap:"round",strokeLinejoin:"round"}),
  Plot.dot(pts(sarDots),{x:"n",y:"v",r:4.5,fill:lime}),
  Plot.line(pts(maSlow),{x:"n",y:"v",stroke:"#000",strokeWidth:4}),
  Plot.rect([{}],{x1:boxCorners[0][0],x2:boxCorners[1][0],y1:boxCorners[2][1],y2:boxCorners[0][1],fill:"none",stroke:"#0000d0",strokeWidth:4,inset:0}),
  Plot.dot(pts(boxCorners),{x:"n",y:"v",symbol:"square",r:6,fill:"#ff4500",stroke:"#0000d0",strokeWidth:2.5}),
  Plot.frame({stroke:orange,strokeWidth:3}),
  Plot.axisY(priceTicks,{anchor:"right",tickSize:9,tickPadding:2,tickFormat:d=>d.toFixed(1),fontSize:18,color:orange,label:null,strokeWidth:2.5})
 ]}));

function panel(h,mt,mb,dom,extra){return Plot.plot({width:W,height:h,marginLeft:ML,marginRight:MR,marginTop:mt,marginBottom:mb,
 style:{background:"transparent",overflow:"visible",fontFamily:font},x:xOpt,y:{domain:dom,axis:null},
 marks:[...extra,Plot.frame({stroke:orange,strokeWidth:3})]})}
const lab=(vals,fmt,dy)=>Plot.text(vals,{x:()=>XMAX,y:d=>d,text:fmt,dx:11,dy,textAnchor:"start",fill:orange,fontSize:18});
const ticks=v=>Plot.axisY(v,{anchor:"right",tickSize:9,tickFormat:()=>"",color:orange,label:null,strokeWidth:2.5});
const level=v=>Plot.ruleY(v,{stroke:gray,strokeWidth:2.5,strokeDasharray:"8 9"});
const tag=(t)=>Plot.text([t],{frameAnchor:"top-left",dx:7,dy:9,fill:"#e8431c",fontSize:18,stroke:"#fff",strokeWidth:4});

document.getElementById("pRsi").append(panel(115,2,2,[0,100],[
 level(rsiLevels),
 Plot.line(pts(rsiSeries),{x:"n",y:"v",stroke:blue,strokeWidth:2}),
 tag("RSI(14) 45.57"),
 ticks([100,70,30,0]),
 lab([100],d=>d.toFixed(2),9),lab(rsiLevels,d=>d.toFixed(2),0),lab([0],d=>d.toFixed(2),-10)]));

document.getElementById("pCci").append(panel(125,2,2,[-453.53,441.96],[
 level(cciLevels),
 Plot.line(pts(cciSeries),{x:"n",y:"v",stroke:teal,strokeWidth:2}),
 tag("CCI(14) -111.00"),
 ticks([441.96,100,-100,-453.53]),
 lab([441.96],d=>d.toFixed(2),11),lab([100,0,-100],d=>d.toFixed(2),0),lab([-453.53],d=>d.toFixed(2),-11)]));

const tickBars=timeLabels.map((_,i)=>i*64);
document.getElementById("pSto").append(panel(124,2,40,[2.7,97.3],[
 level(stochLevels),
 Plot.line(pts(stochK),{x:"n",y:"v",stroke:teal,strokeWidth:2}),
 Plot.line(stochK.map(([n,v])=>({n:n+1,v})),{x:"n",y:"v",stroke:"#e8141c",strokeWidth:2.6,strokeDasharray:"4 9"}),
 tag("Stoch(5,3,3) 36.57 43.30"),
 ticks(stochLevels),
 lab([80],()=>"100.00",-5),lab(stochLevels,d=>d.toFixed(2),0),lab([20],()=>"0.00",4),
 Plot.axisX(tickBars,{anchor:"bottom",tickSize:8,tickPadding:3,textAnchor:"start",tickFormat:d=>timeLabels[d/64],fontSize:18,color:orange,label:null,strokeWidth:2.5})
]));
</script>
</body></html>
